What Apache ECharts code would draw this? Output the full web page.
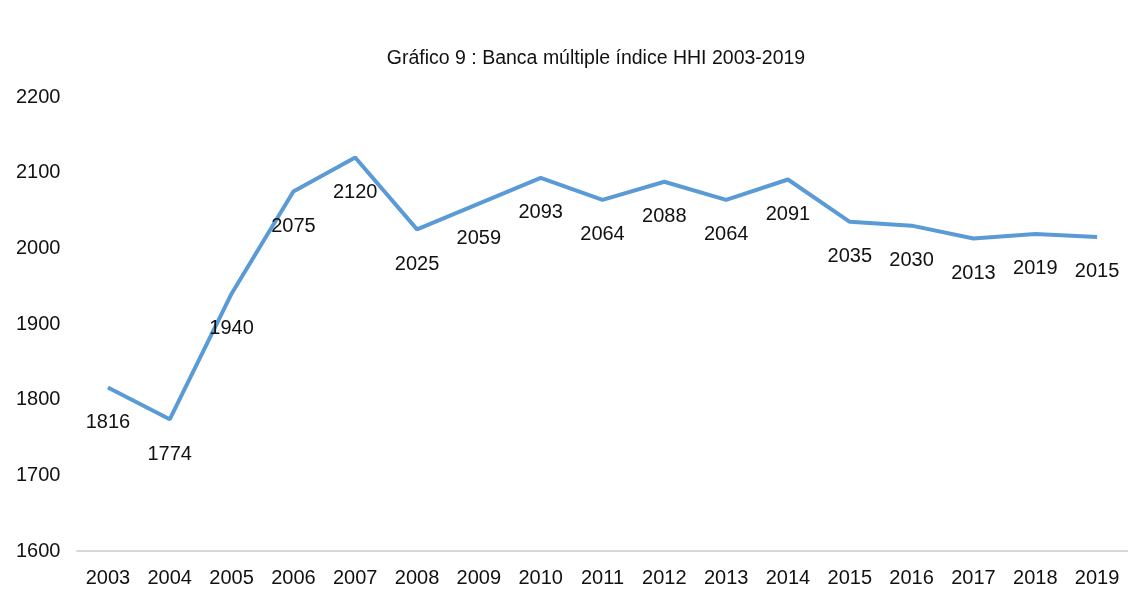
<!DOCTYPE html>
<html>
<head>
<meta charset="utf-8">
<script src="https://cdn.jsdelivr.net/npm/echarts@6/dist/echarts.min.js"></script>
<style>html,body{margin:0;padding:0;background:#fff}#c{width:1128px;height:596px}</style>
</head>
<body>
<div id="c"></div>
<script>
var years = ['2003','2004','2005','2006','2007','2008','2009','2010','2011','2012','2013','2014','2015','2016','2017','2018','2019'];
var hhi = [1816,1774,1940,2075,2120,2025,2059,2093,2064,2088,2064,2091,2035,2030,2013,2019,2015];
var titleText = 'Gráfico 9 : Banca múltiple índice HHI 2003-2019';

var chart = echarts.init(document.getElementById('c'));
chart.setOption({
  backgroundColor: '#ffffff',
  animation: false,
  title: {
    text: titleText,
    left: 591, top: 44, textAlign: 'center',
    textStyle: {fontFamily: 'Liberation Sans', fontSize: 19.5, fontWeight: 'normal', color: '#111'}
  },
  grid: {left: 77, right: -3, top: 97, bottom: 45, containLabel: false},
  xAxis: {
    type: 'category', data: years, boundaryGap: true,
    axisLine: {lineStyle: {color: '#d9d9d9', width: 2}},
    axisTick: {show: false},
    axisLabel: {fontFamily: 'Liberation Sans', fontSize: 20, color: '#111', margin: 17}
  },
  yAxis: {
    type: 'value', min: 1600, max: 2200, interval: 100,
    axisLine: {show: false}, axisTick: {show: false},
    splitLine: {show: false},
    axisLabel: {fontFamily: 'Liberation Sans', fontSize: 20, color: '#111', align: 'left', margin: 61,
      formatter: function (v) { return String(v); }}
  },
  series: [{
    type: 'line', data: hhi, symbol: 'circle', symbolSize: 2, showSymbol: true,
    showAllSymbol: true,
    itemStyle: {color: 'rgba(91,155,213,0)', borderWidth: 0},
    lineStyle: {color: '#5b9bd5', width: 4},
    label: {show: true, position: 'bottom', distance: 24, fontFamily: 'Liberation Sans', fontSize: 20, color: '#111',
      formatter: function (p) { return String(p.value); }}
  }]
});
</script>
</body>
</html>
